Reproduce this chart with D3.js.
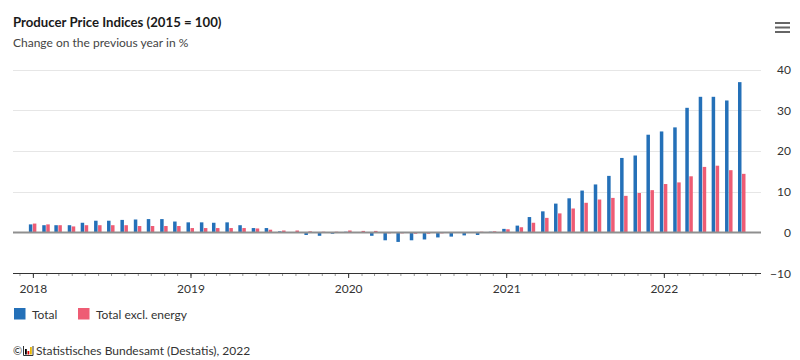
<!DOCTYPE html>
<html><head><meta charset="utf-8">
<script src="https://cdn.jsdelivr.net/npm/d3@7/dist/d3.min.js"></script>
<style>
body{margin:0;background:#fff;}
svg{display:block;font-family:Lato,"Open Sans",sans-serif;}
</style></head>
<body><svg id="c" width="800" height="360"></svg>
<script>
// Months: Jan 2018 .. Jul 2022
const months = d3.timeMonth.range(new Date(2018,0,1), new Date(2022,7,1));
const total = [
  2.0, 1.8, 1.8, 1.8, 2.4, 2.9, 2.9, 3.1, 3.2, 3.3, 3.3, 2.7,
  2.5, 2.5, 2.4, 2.5, 1.8, 1.1, 1.1, 0.3, -0.1, -0.6, -0.8, -0.3,
  0.2, -0.1, -0.8, -1.9, -2.3, -1.9, -1.7, -1.2, -1.0, -0.7, -0.6, 0.2,
  0.9, 1.7, 3.8, 5.2, 7.1, 8.4, 10.3, 11.8, 13.9, 18.3, 18.9, 24.0,
  24.8, 25.8, 30.6, 33.3, 33.3, 32.4, 36.9
];
const exclEnergy = [
  2.2, 2.0, 1.8, 1.5, 1.8, 1.8, 1.8, 1.8, 1.6, 1.6, 1.6, 1.6,
  1.1, 1.1, 1.1, 1.1, 1.1, 1.0, 0.7, 0.5, 0.5, 0.3, 0.2, 0.2,
  0.5, 0.4, 0.4, -0.2, -0.2, -0.3, -0.3, -0.2, -0.1, 0.1, 0.2, 0.3,
  0.8, 1.3, 2.4, 3.6, 4.7, 5.9, 7.3, 8.1, 8.5, 9.0, 9.7, 10.4,
  11.9, 12.3, 13.8, 16.1, 16.4, 15.3, 14.4
];
const seriesNames = ["Total", "Total excl. energy"];
const yTicks = [-10, 0, 10, 20, 30, 40];
const yearLabels = ["2018", "2019", "2020", "2021", "2022"];
const colors = ["#2470b8", "#ee5c74"];

const svg = d3.select("#c");
const x = d3.scaleTime().domain([new Date(2017,10,16), new Date(2022,7,14)]).range([13, 761]);
const y = d3.scaleLinear().domain([-10, 40]).range([273.3, 69.5]);

// title
svg.append("text").attr("x", 13).attr("y", 27).attr("font-size", 13.2).attr("font-weight", 700)
  .attr("fill", "#1a1a1a").text("Producer Price Indices (2015 = 100)");
svg.append("text").attr("x", 13).attr("y", 47).attr("font-size", 12).attr("fill", "#444")
  .text("Change on the previous year in %");

// menu icon
[23, 27.5, 32].forEach(v => svg.append("rect").attr("x", 775).attr("y", v - 1).attr("width", 15).attr("height", 2).attr("fill", "#666"));

// grid
svg.append("g").selectAll("line").data(yTicks.filter(t => t > 0)).join("line")
  .attr("x1", 13).attr("x2", 761).attr("y1", d => Math.round(y(d)) + 0.5).attr("y2", d => Math.round(y(d)) + 0.5)
  .attr("stroke", "#e6e6e6");

// y labels (right)
const yAxis = d3.axisRight(y).tickValues(yTicks).tickSize(0).tickPadding(0);
const yg = svg.append("g").attr("transform", "translate(791,0)").call(yAxis);
yg.select(".domain").remove();
yg.selectAll("text").attr("text-anchor", "end").attr("font-size", 12).attr("fill", "#333")
  .attr("font-family", "Lato,'Open Sans',sans-serif");

// bars
const bw = 4;
const gBars = svg.append("g");
[total, exclEnergy].forEach((vals, si) => {
  gBars.append("g").selectAll("rect").data(vals).join("rect")
    .attr("x", (d, i) => x(months[i]) - bw + si * bw)
    .attr("width", bw - 0.5)
    .attr("y", d => Math.min(y(d), y(0)))
    .attr("height", d => Math.abs(y(d) - y(0)))
    .attr("fill", colors[si]);
});

// zero line
svg.append("line").attr("x1", 13).attr("x2", 761).attr("y1", y(0)).attr("y2", y(0))
  .attr("stroke", "#8f8f8f").attr("stroke-width", 2);

// x axis
const xAxisY = 273;
const minor = d3.axisBottom(x).ticks(d3.timeMonth.every(1)).tickSize(3).tickFormat("");
const mg = svg.append("g").attr("transform", `translate(0,${xAxisY})`).call(minor);
mg.select(".domain").remove();
mg.selectAll("line").attr("stroke", "#999");
const major = d3.axisBottom(x).ticks(d3.timeYear.every(1)).tickSize(5).tickPadding(6)
  .tickFormat((d, i) => yearLabels[i]);
const xg = svg.append("g").attr("transform", `translate(0,${xAxisY})`).call(major);
xg.select(".domain").attr("d", "M13,0.5H761").attr("stroke", "#333");
xg.selectAll("line").attr("stroke", "#333");
xg.selectAll("text").attr("font-size", 12).attr("fill", "#333").attr("font-family", "Lato,'Open Sans',sans-serif");

// legend
const lg = svg.append("g");
const legX = [14, 78];
seriesNames.forEach((n, i) => {
  lg.append("rect").attr("x", legX[i]).attr("y", 308).attr("width", 11.5).attr("height", 11.5)
    .attr("fill", colors[i]);
  lg.append("text").attr("x", legX[i] + 18).attr("y", 318.5).attr("font-size", 12).attr("fill", "#333").text(n);
});

// credits
svg.append("text").attr("x", 13).attr("y", 355).attr("font-size", 11).attr("fill", "#333").text("©");
const logo = svg.append("g").attr("transform", "translate(23,346)");
logo.append("path").attr("d", "M0.5,0V9.5H10V0").attr("fill", "none").attr("stroke", "#333").attr("stroke-width", 1);
logo.append("rect").attr("x", 2).attr("y", 3).attr("width", 1.8).attr("height", 5.5).attr("fill", "#000");
logo.append("rect").attr("x", 4.5).attr("y", 5).attr("width", 1.8).attr("height", 3.5).attr("fill", "#d00");
logo.append("rect").attr("x", 7).attr("y", 1).attr("width", 1.8).attr("height", 7.5).attr("fill", "#e8b800");
svg.append("text").attr("x", 36).attr("y", 355).attr("font-size", 12).attr("fill", "#333")
  .text("Statistisches Bundesamt (Destatis), 2022");
</script></body></html>
